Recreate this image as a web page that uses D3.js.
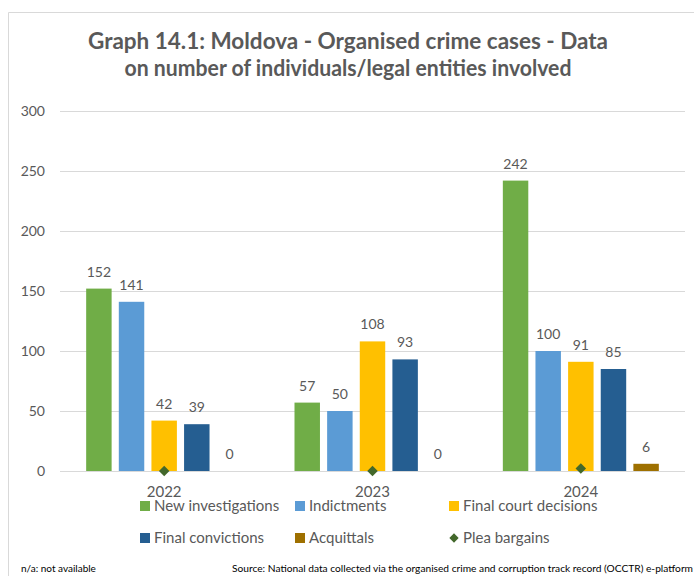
<!DOCTYPE html>
<html>
<head>
<meta charset="utf-8">
<script src="https://cdn.jsdelivr.net/npm/d3@7"></script>
<style>
  body { margin: 0; background: #fff; }
  text { font-family: Lato, "Open Sans", sans-serif; fill: #595959; }
</style>
</head>
<body>
<div id="chart"></div>
<script>
// values
const years = ["2022", "2023", "2024"];
const barSeries = ["New investigations", "Indictments", "Final court decisions", "Final convictions", "Acquittals"];
const newInvestigations = [152, 57, 242];
const indictments = [141, 50, 100];
const finalCourtDecisions = [42, 108, 91];
const finalConvictions = [39, 93, 85];
const acquittals = [0, 0, 6];
const pleaBargains = [0, 0, 2];
const yTicks = [0, 50, 100, 150, 200, 250, 300];

const barValues = [newInvestigations, indictments, finalCourtDecisions, finalConvictions, acquittals];
const colors = ["#70ad47", "#5b9bd5", "#ffc000", "#255e91", "#9e7000"];
const pleaColor = "#43682b";

const width = 694,
      height = 576;

const svg = d3.select("#chart")
.append("svg")
  .attr("width", width)
  .attr("height", height);

// chart frame (left + top edges visible)
svg.append("path")
  .attr("d", `M8.5,${height} V12.5 H${width}`)
  .attr("fill", "none")
  .attr("stroke", "#d9d9d9")
  .attr("stroke-width", 1);

// title
const title = svg.append("text")
  .attr("text-anchor", "middle")
  .style("font-size", "22px")
  .style("font-weight", "bold");
title.append("tspan")
  .attr("x", 348).attr("y", 49)
  .attr("textLength", 520).attr("lengthAdjust", "spacingAndGlyphs")
  .text("Graph 14.1: Moldova - Organised crime cases - Data");
title.append("tspan")
  .attr("x", 348).attr("y", 76)
  .attr("textLength", 447).attr("lengthAdjust", "spacingAndGlyphs")
  .text("on number of individuals/legal entities involved");

const y = d3.scaleLinear()
.domain([0, 300])
.range([471, 111]);

const x0 = d3.scaleBand()
.domain(years)
.range([60, 685]);

const x1 = d3.scaleBand()
.domain(barSeries)
.range([x0.bandwidth() / 2 - 78, x0.bandwidth() / 2 + 78])
.paddingInner(0.22);

// grid lines
svg.append("g")
.selectAll("line")
.data(yTicks)
.enter()
.append("line")
  .attr("x1", 60)
  .attr("x2", 685)
  .attr("y1", d => Math.round(y(d)) + 0.5)
  .attr("y2", d => Math.round(y(d)) + 0.5)
  .attr("stroke", "#d9d9d9")
  .attr("stroke-width", 1);

// y tick labels
svg.append("g")
.selectAll("text")
.data(yTicks)
.enter()
.append("text")
  .attr("x", 45)
  .attr("y", d => y(d) + 5)
  .attr("text-anchor", "end")
  .style("font-size", "14px")
  .text(d => d);

// x labels
svg.append("g")
.selectAll("text")
.data(years)
.enter()
.append("text")
  .attr("x", d => x0(d) + x0.bandwidth() / 2)
  .attr("y", 497)
  .attr("text-anchor", "middle")
  .style("font-size", "15px")
  .text(d => d);

// bars
const flat = [];
barSeries.forEach((s, si) => {
  years.forEach((yr, yi) => {
    flat.push({ series: s, year: yr, value: barValues[si][yi], color: colors[si] });
  });
});

svg.append("g")
.selectAll("rect")
.data(flat)
.enter()
.append("rect")
  .attr("x", d => x0(d.year) + x1(d.series))
  .attr("y", d => y(d.value))
  .attr("width", x1.bandwidth())
  .attr("height", d => y(0) - y(d.value))
  .attr("fill", d => d.color);

// data labels
svg.append("g")
.selectAll("text")
.data(flat)
.enter()
.append("text")
  .attr("x", d => x0(d.year) + x1(d.series) + x1.bandwidth() / 2)
  .attr("y", d => y(d.value) - 12)
  .attr("text-anchor", "middle")
  .style("font-size", "14px")
  .text(d => d.value);

// plea bargains markers
svg.append("g")
.selectAll("path")
.data(years.map((yr, i) => ({ year: yr, value: pleaBargains[i] })))
.enter()
.append("path")
  .attr("d", d3.symbol().type(d3.symbolDiamond2).size(70))
  .attr("transform", d => `translate(${x0(d.year) + x0.bandwidth() / 2},${y(d.value)})`)
  .attr("fill", pleaColor);

// legend
const legendItems = [
  { name: "New investigations", color: colors[0], x: 140, y: 511 },
  { name: "Indictments", color: colors[1], x: 295, y: 511 },
  { name: "Final court decisions", color: colors[2], x: 449, y: 511 },
  { name: "Final convictions", color: colors[3], x: 140, y: 543 },
  { name: "Acquittals", color: colors[4], x: 295, y: 543 },
  { name: "Plea bargains", color: pleaColor, x: 449, y: 543, diamond: true }
];

const legend = svg.append("g");
legendItems.forEach(d => {
  if (d.diamond) {
    legend.append("path")
      .attr("d", d3.symbol().type(d3.symbolDiamond2).size(55))
      .attr("transform", `translate(${d.x + 5},${d.y - 5})`)
      .attr("fill", d.color);
  } else {
    legend.append("rect")
      .attr("x", d.x)
      .attr("y", d.y - 10)
      .attr("width", 10)
      .attr("height", 10)
      .attr("fill", d.color);
  }
  legend.append("text")
    .attr("x", d.x + 14)
    .attr("y", d.y)
    .style("font-size", "15px")
    .text(d.name);
});

// footnotes
svg.append("text")
  .attr("x", 21)
  .attr("y", 572)
  .style("font-size", "10px")
  .style("fill", "#000")
  .text("n/a: not available");

svg.append("text")
  .attr("x", 232)
  .attr("y", 572)
  .attr("textLength", 461)
  .attr("lengthAdjust", "spacingAndGlyphs")
  .style("font-size", "10px")
  .style("fill", "#000")
  .text("Source: National data collected via the organised crime and corruption track record (OCCTR) e-platform");
</script>
</body>
</html>
